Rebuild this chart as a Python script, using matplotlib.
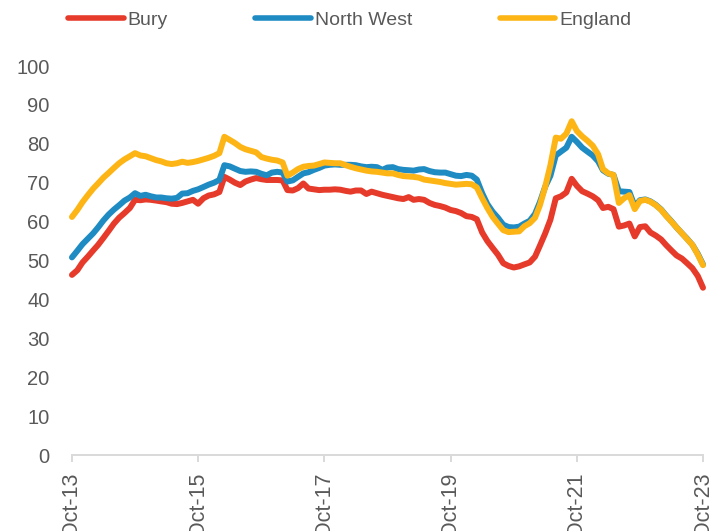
import numpy as np
import pandas as pd
import matplotlib
matplotlib.use("Agg")
import matplotlib.pyplot as plt
import matplotlib.dates as mdates

# monthly series, Oct-13 .. Oct-23
dates = pd.date_range("2013-10-01", periods=121, freq="MS")

bury = [
    46.3, 47.5, 49.5, 51.0, 52.6, 54.0, 55.8, 57.6, 59.5, 61.0,
    62.2, 63.5, 65.6, 65.5, 65.7, 65.6, 65.4, 65.2, 65.0, 64.6,
    64.5, 64.8, 65.2, 65.6, 64.6, 66.0, 66.7, 67.0, 67.6, 71.5,
    70.8, 70.0, 69.4, 70.3, 70.8, 71.2, 70.9, 70.7, 70.7, 70.7,
    70.6, 68.1, 68.0, 68.6, 69.8, 68.5, 68.3, 68.1, 68.2, 68.2,
    68.3, 68.2, 67.9, 67.7, 68.0, 68.0, 67.1, 67.7, 67.3, 66.9,
    66.6, 66.3, 66.0, 65.8, 66.3, 65.6, 65.8, 65.6, 64.8, 64.3,
    64.0, 63.6, 63.0, 62.7, 62.2, 61.4, 61.2, 60.6, 57.2, 55.0,
    53.2, 51.5, 49.3, 48.6, 48.2, 48.5, 49.0, 49.5, 51.0, 53.8,
    57.0, 60.5, 66.0, 66.5, 67.5, 71.0, 69.2, 67.8, 67.2, 66.5,
    65.5, 63.5, 63.8, 63.2, 58.7, 59.0, 59.5, 56.2, 58.6, 58.8,
    57.2, 56.4, 55.4, 54.0, 52.6, 51.3, 50.5, 49.3, 48.0, 46.0,
    43.0,
]

north_west = [
    50.8, 52.5, 54.2, 55.6, 57.0, 58.5, 60.3, 61.8, 63.1, 64.2,
    65.4, 66.2, 67.3, 66.6, 66.9, 66.5, 66.2, 66.2, 66.0, 65.9,
    66.1, 67.2, 67.3, 67.9, 68.3, 68.9, 69.5, 70.0, 70.7, 74.5,
    74.2, 73.6, 73.0, 72.8, 72.9, 72.8, 72.3, 71.9, 72.6, 72.8,
    72.6, 70.3, 70.6, 71.5, 72.4, 72.7, 73.3, 73.8, 74.4, 74.6,
    74.7, 74.6, 74.6, 74.6, 74.5, 74.2, 74.0, 74.1, 74.0, 73.3,
    73.9, 74.0, 73.5, 73.3, 73.2, 73.1, 73.4, 73.5, 73.0, 72.7,
    72.6, 72.6, 72.2, 71.8, 71.7, 72.0, 71.8, 70.8, 67.3, 64.5,
    62.5, 61.0, 59.2, 58.6, 58.5, 58.7, 59.5, 60.2, 62.0, 65.0,
    69.0, 71.8, 77.0, 78.0, 79.0, 81.8, 80.5, 79.0, 78.0, 77.0,
    75.5, 73.2, 72.3, 72.0, 67.8, 67.7, 67.6, 63.9, 65.5, 65.7,
    65.2, 64.3, 63.1, 61.6, 60.1, 58.5, 57.0, 55.6, 54.0, 51.7,
    49.0,
]

england = [
    61.2, 63.0, 65.0, 66.8, 68.5, 69.8, 71.3, 72.5, 73.8, 75.0,
    76.0, 76.8, 77.6, 77.0, 76.8, 76.3, 75.8, 75.5, 75.0, 74.8,
    75.0, 75.4, 75.1, 75.3, 75.6, 76.0, 76.4, 76.9, 77.6, 81.8,
    81.0, 80.2, 79.2, 78.6, 78.2, 77.8, 76.6, 76.2, 75.9, 75.7,
    75.2, 71.8, 72.6, 73.5, 74.1, 74.3, 74.4, 74.8, 75.2, 75.1,
    75.0, 75.0, 74.5, 74.1, 73.7, 73.4, 73.1, 72.9, 72.8, 72.6,
    72.4, 72.4, 72.0, 71.7, 71.6, 71.5, 71.3, 70.8, 70.6, 70.4,
    70.2, 69.9, 69.7, 69.5, 69.6, 69.7, 69.6, 68.8, 66.0, 63.5,
    61.2, 59.5, 57.8, 57.3, 57.4, 57.5, 58.8, 59.6, 61.0, 64.2,
    69.0, 74.5, 81.6, 81.3, 82.6, 85.8, 83.3, 81.9, 80.8, 79.5,
    77.3, 73.5, 72.4, 72.0, 64.8, 66.0, 66.8, 63.2, 65.3, 65.6,
    65.1, 64.2, 63.0, 61.5, 60.0, 58.5, 57.0, 55.5, 54.0, 51.5,
    48.8,
]

series = [
    ("Bury", bury, "#E63A2B"),
    ("North West", north_west, "#1E8BC3"),
    ("England", england, "#FDB515"),
]

plt.rcParams["font.family"] = ["Liberation Sans", "DejaVu Sans"]
text_grey = "#595959"

fig = plt.figure(figsize=(7.24, 5.31), dpi=100)
ax = fig.add_axes([0.0994, 0.1431, 0.8716, 0.7326])

for name, vals, col in series:
    ax.plot(dates, vals, color=col, lw=4.3, label=name,
            solid_capstyle="round", solid_joinstyle="round", clip_on=False)

ax.set_ylim(0, 100)
ax.set_yticks(np.arange(0, 101, 10))
ax.set_xlim(dates[0], dates[-1])
ax.set_xticks(dates[::24])
ax.xaxis.set_major_formatter(mdates.DateFormatter("%b-%y"))

for s in ["top", "right", "left"]:
    ax.spines[s].set_visible(False)
ax.spines["bottom"].set_color("#D9D9D9")
ax.spines["bottom"].set_linewidth(1.4)

ax.tick_params(axis="y", length=0, pad=16, labelsize=14.5, labelcolor=text_grey)
ax.tick_params(axis="x", length=5, width=1.4, color="#D9D9D9", pad=7.5,
               labelsize=15.5, labelcolor=text_grey, labelrotation=90)

leg = fig.legend(loc="center", bbox_to_anchor=(0.483, 0.962), ncol=3,
                 frameon=False, fontsize=14, handlelength=2.85,
                 handletextpad=0.2, columnspacing=4.5)
for t in leg.get_texts():
    t.set_color(text_grey)
for h in leg.legend_handles:
    h.set_linewidth(4.0)

fig.savefig("out.png", dpi=100)
